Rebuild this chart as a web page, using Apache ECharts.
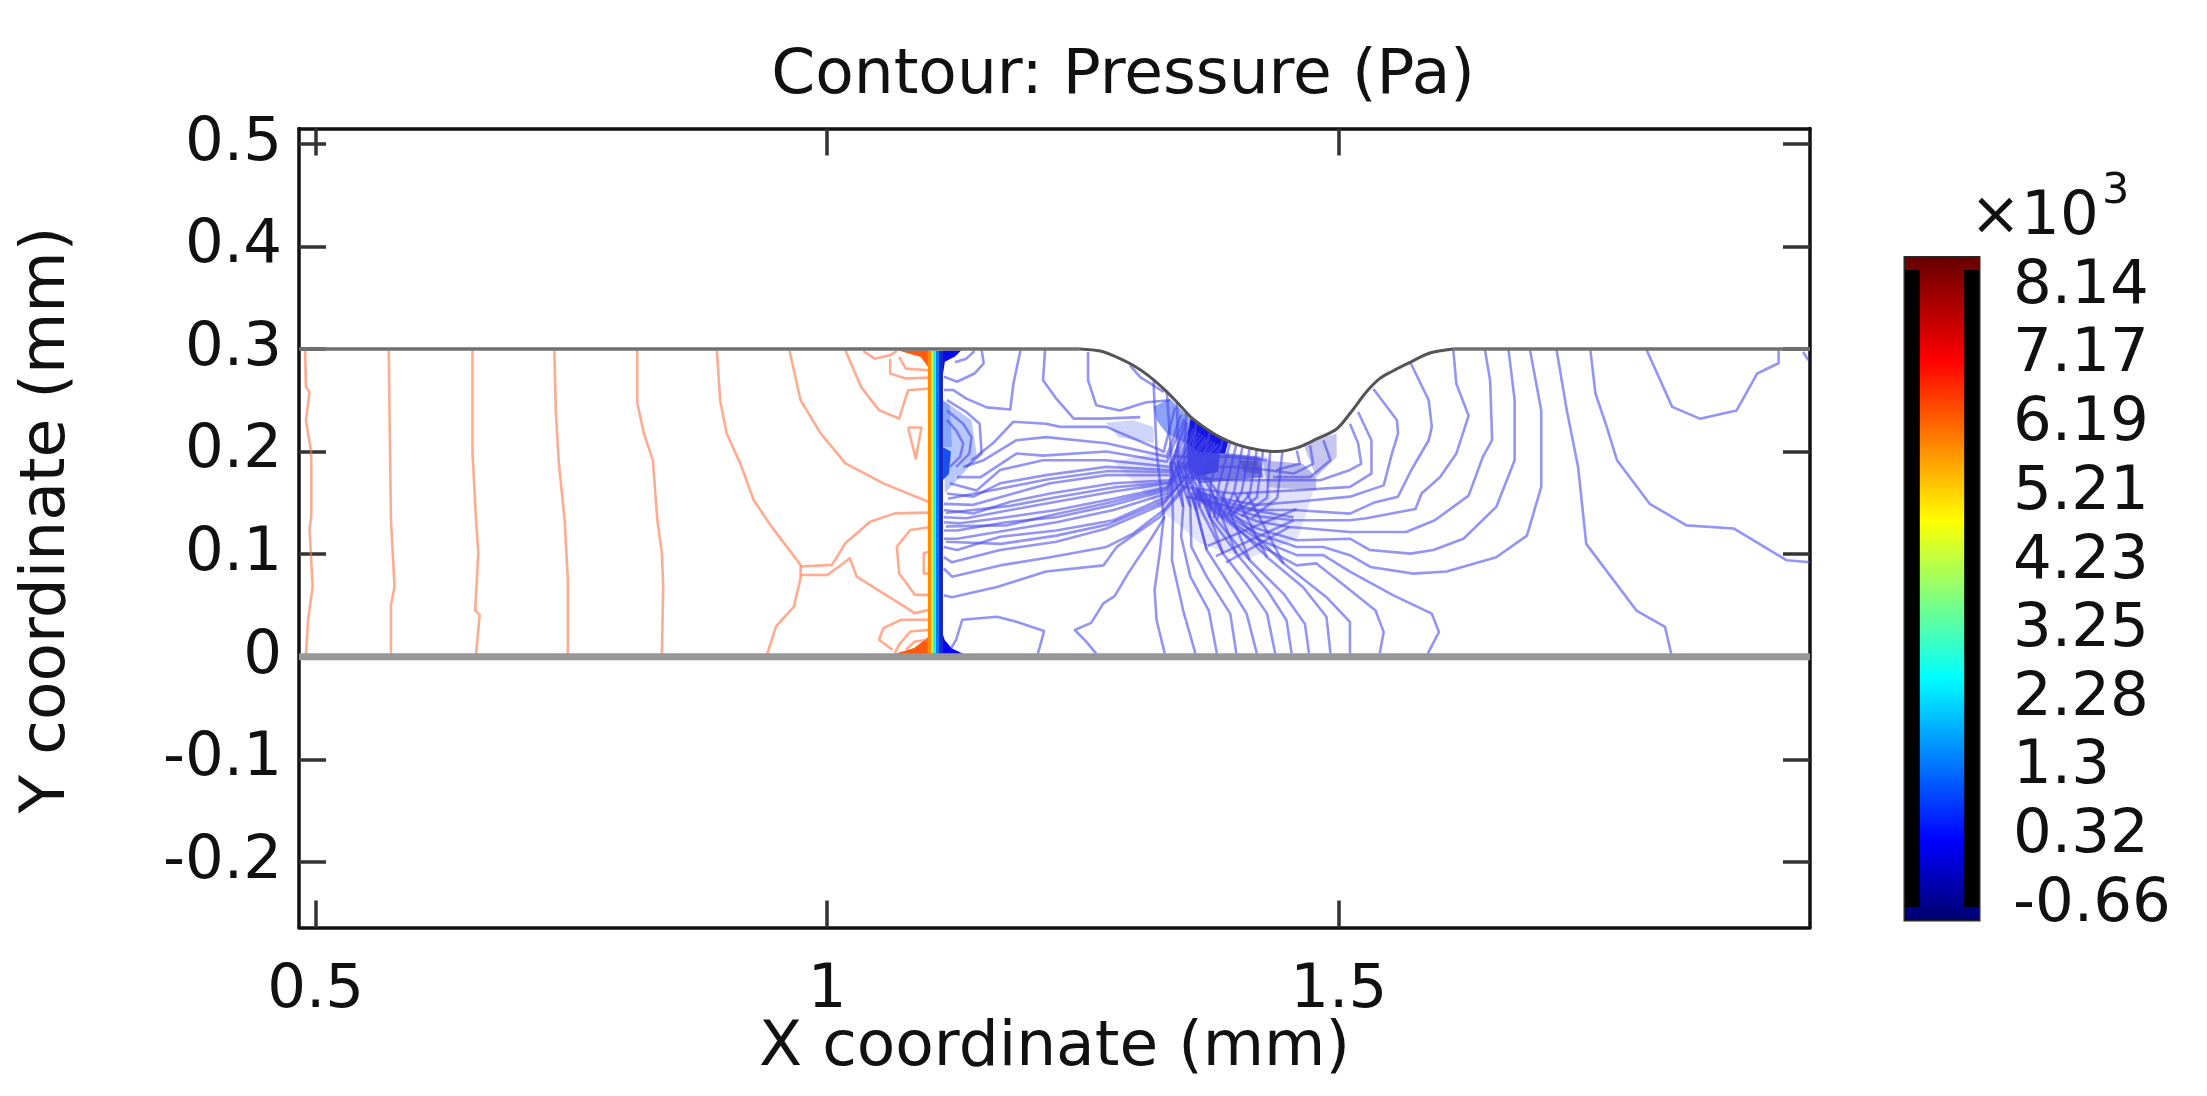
<!DOCTYPE html>
<html><head><meta charset="utf-8"><title>Contour: Pressure (Pa)</title>
<style>html,body{margin:0;padding:0;background:#fff}#c{width:2207px;height:1096px;filter:blur(0.55px)}</style>
<script src="https://cdn.jsdelivr.net/npm/echarts@6/dist/echarts.min.js"></script></head>
<body><div id="c"></div>
<script>
const chartTitle = 'Contour: Pressure (Pa)';
const xName = 'X coordinate (mm)';
const yName = 'Y coordinate (mm)';
const xRange = [0.4837, 1.9607];
const yRange = [-0.2639, 0.5148];
const xTicks = [0.5, 1, 1.5];
const yTicks = [-0.2, -0.1, 0, 0.1, 0.2, 0.3, 0.4, 0.5];
const colorTicks = [8.14, 7.17, 6.19, 5.21, 4.23, 3.25, 2.28, 1.3, 0.32, -0.66];
const colorRange = [-0.874, 8.5675];
const colorBandRange = [-0.689, 8.389];

// channel walls (mm)
const wallTopLeft = [[0.4837,0.3],[1.247,0.3]];
const wallBump = [[1.247,0.3],[1.267,0.298],[1.283,0.292],[1.299,0.284],[1.314,0.274],[1.329,0.261],[1.342,0.248],[1.355,0.234],[1.368,0.224],[1.384,0.214],[1.400,0.207],[1.420,0.202],[1.439,0.200],[1.459,0.2035],[1.478,0.212],[1.498,0.222],[1.511,0.237],[1.527,0.258],[1.540,0.271],[1.552,0.278],[1.570,0.287],[1.589,0.296],[1.612,0.3]];
const wallTopRight = [[1.612,0.3],[1.9607,0.3]];
const wallBottom = [[0.4837,0],[1.9607,0]];

// high-pressure contours (mm)
const orangeContours = [
 [[0.4896,0.2986],[0.4905,0.263],[0.494,0.258],[0.4905,0.2305],[0.4957,0.198],[0.4957,0.1365],[0.494,0.125],[0.497,0.0684],[0.4926,0.036],[0.4905,0.002]],
 [[0.5714,0.2986],[0.5727,0.198],[0.5736,0.133],[0.5771,0.0684],[0.5736,0.05],[0.5736,0.002]],
 [[0.6533,0.2986],[0.6533,0.198],[0.6568,0.133],[0.659,0.1008],[0.6559,0.0455],[0.6603,0.0405],[0.6568,0.002]],
 [[0.7333,0.2986],[0.7347,0.2396],[0.7377,0.1884],[0.7434,0.133],[0.7465,0.0749],[0.7465,0.002]],
 [[0.8143,0.2986],[0.8143,0.2478],[0.8209,0.2176],[0.8296,0.1914],[0.834,0.133],[0.8384,0.1008],[0.8397,0.0684],[0.8384,0.002]],
 [[0.8922,0.2986],[0.8953,0.25],[0.9018,0.2176],[0.915,0.1884],[0.9281,0.1527],[0.9456,0.1268],[0.974,0.0895],[0.974,0.0765],[0.9675,0.0489],[0.95,0.0295],[0.9412,0.002]],
 [[0.974,0.0879],[1.0047,0.0895],[1.0178,0.1106],[1.0419,0.1316],[1.066,0.1397],[1.0997,0.1404]],
 [[0.974,0.0797],[1.0003,0.0797],[1.0222,0.096],[1.0288,0.0781],[1.0857,0.0425],[1.0997,0.0457]],
 [[0.9631,0.2986],[0.974,0.25],[0.9937,0.2176],[1.0178,0.1884],[1.055,0.1689],[1.0988,0.1511]],
 [[1.0178,0.2986],[1.0331,0.263],[1.0506,0.2403],[1.0703,0.2321],[1.0791,0.2597],[1.0997,0.2613]],
 [[1.0791,0.2234],[1.0922,0.2234],[1.0865,0.1932],[1.0791,0.2234]],
 [[1.0353,0.298],[1.0463,0.2905],[1.0616,0.2938],[1.0681,0.298]],
 [[1.0616,0.2905],[1.0616,0.2759],[1.0769,0.2711],[1.0997,0.272]],
 [[1.0703,0.2921],[1.0769,0.2808],[1.0997,0.2792]],
 [[1.0997,0.1261],[1.0813,0.1235],[1.0681,0.1073],[1.0703,0.0814],[1.0857,0.0603],[1.0997,0.0603]],
 [[1.0997,0.1024],[1.0944,0.1008],[1.0944,0.0814],[1.0997,0.0807]],
 [[1.0997,0.036],[1.0725,0.036],[1.055,0.0279],[1.0506,0.0165],[1.0638,0.0068]],
 [[1.0997,0.0262],[1.0813,0.0246],[1.0703,0.0117],[1.066,0.0035]],
 [[1.0997,0.0165],[1.0857,0.0149],[1.0769,0.0068]]
];

// shock front: vertical contour bundle x positions (mm)
const frontX = [1.1004, 1.1024, 1.1037, 1.1052, 1.1078, 1.1112];
const frontY = [0.298, -0.003];

// low-pressure fan left of the throat, rising to the wall (mm)
const blueFanLeft = [
 [[1.114,0.060],[1.122,0.058],[1.166,0.068],[1.214,0.083],[1.270,0.089],[1.283,0.107],[1.325,0.136],[1.385,0.205]],
 [[1.114,0.086],[1.122,0.078],[1.169,0.089],[1.218,0.097],[1.273,0.107],[1.299,0.120],[1.329,0.143],[1.382,0.207]],
 [[1.114,0.097],[1.122,0.092],[1.169,0.104],[1.224,0.112],[1.273,0.125],[1.329,0.149],[1.379,0.209]],
 [[1.114,0.107],[1.127,0.104],[1.169,0.117],[1.224,0.123],[1.280,0.133],[1.332,0.156],[1.376,0.210]],
 [[1.114,0.115],[1.127,0.115],[1.175,0.123],[1.224,0.131],[1.280,0.143],[1.332,0.159],[1.373,0.212]],
 [[1.114,0.123],[1.127,0.123],[1.175,0.131],[1.224,0.136],[1.280,0.148],[1.332,0.162],[1.370,0.214]],
 [[1.114,0.131],[1.130,0.130],[1.175,0.136],[1.224,0.143],[1.280,0.154],[1.332,0.1655],[1.367,0.216]],
 [[1.114,0.136],[1.136,0.135],[1.179,0.143],[1.224,0.151],[1.280,0.161],[1.335,0.169],[1.364,0.218]],
 [[1.114,0.143],[1.143,0.1395],[1.179,0.151],[1.218,0.159],[1.280,0.169],[1.335,0.172],[1.361,0.220]],
 [[1.114,0.149],[1.143,0.148],[1.182,0.159],[1.218,0.169],[1.273,0.177],[1.335,0.177],[1.358,0.222]],
 [[1.117,0.159],[1.143,0.156],[1.169,0.169],[1.214,0.177],[1.273,0.185],[1.335,0.182],[1.355,0.225]],
 [[1.120,0.169],[1.146,0.162],[1.169,0.182],[1.211,0.1915],[1.273,0.1915],[1.335,0.185],[1.352,0.228]],
 [[1.127,0.175],[1.150,0.175],[1.185,0.198],[1.211,0.196],[1.273,0.200],[1.332,0.190],[1.349,0.232]],
 [[1.133,0.185],[1.153,0.1915],[1.185,0.211],[1.214,0.214],[1.273,0.208],[1.332,0.195],[1.346,0.236]],
 [[1.141,0.1915],[1.162,0.208],[1.182,0.229],[1.214,0.227],[1.228,0.224],[1.273,0.224],[1.329,0.200],[1.340,0.243]],
 [[1.116,0.112],[1.170,0.110],[1.224,0.118],[1.275,0.129],[1.330,0.152],[1.380,0.206]],
 [[1.116,0.127],[1.175,0.128],[1.224,0.139],[1.280,0.151],[1.332,0.164],[1.371,0.212]],
 [[1.116,0.140],[1.179,0.147],[1.221,0.155],[1.280,0.165],[1.334,0.170],[1.360,0.220]],
 [[1.118,0.154],[1.170,0.164],[1.216,0.173],[1.275,0.181],[1.335,0.180],[1.350,0.230]]
];
const blueUpperLeft = [
 [[1.114,0.260],[1.123,0.260],[1.136,0.2515],[1.156,0.243],[1.179,0.241],[1.182,0.266],[1.189,0.299]],
 [[1.114,0.273],[1.127,0.268],[1.144,0.276],[1.153,0.286],[1.151,0.299]],
 [[1.125,0.287],[1.136,0.2905],[1.144,0.298]],
 [[1.213,0.299],[1.211,0.2695],[1.224,0.2515],[1.241,0.232],[1.270,0.232],[1.306,0.2335]],
 [[1.255,0.297],[1.255,0.2695],[1.263,0.245],[1.286,0.240],[1.312,0.248],[1.335,0.250]],
 [[1.296,0.284],[1.306,0.2725],[1.329,0.258]],
 [[1.117,0.25],[1.136,0.2385],[1.149,0.227],[1.151,0.198],[1.136,0.185]],
 [[1.117,0.240],[1.133,0.227],[1.141,0.214],[1.139,0.198],[1.126,0.185]],
 [[1.117,0.2305],[1.126,0.2205],[1.133,0.208],[1.130,0.195],[1.120,0.185]]
];
const blueBottomLeft = [
 [[1.121,0.008],[1.126,0.0165],[1.132,0.036],[1.166,0.039],[1.185,0.034],[1.212,0.025],[1.206,0.003]],
 [[1.263,0.003],[1.253,0.015],[1.242,0.026],[1.258,0.033],[1.270,0.052],[1.281,0.059],[1.294,0.081],[1.316,0.114],[1.330,0.1365]]
];
const blueFanBottom = [
 [[1.330,0.003],[1.322,0.0355],[1.320,0.065],[1.325,0.1005],[1.329,0.136]],
 [[1.360,0.003],[1.348,0.045],[1.337,0.094],[1.338,0.136]],
 [[1.381,0.003],[1.373,0.045],[1.355,0.078],[1.346,0.117],[1.348,0.146],[1.335,0.190]],
 [[1.400,0.003],[1.394,0.042],[1.371,0.078],[1.356,0.107],[1.355,0.146],[1.339,0.190]],
 [[1.420,0.003],[1.410,0.042],[1.390,0.0745],[1.371,0.104],[1.361,0.143],[1.343,0.190]],
 [[1.438,0.003],[1.430,0.042],[1.410,0.071],[1.387,0.1005],[1.364,0.146],[1.347,0.190]],
 [[1.454,0.003],[1.449,0.0355],[1.430,0.065],[1.400,0.1005],[1.374,0.136],[1.351,0.190]],
 [[1.471,0.003],[1.467,0.032],[1.446,0.0615],[1.413,0.094],[1.381,0.133],[1.355,0.190]],
 [[1.492,0.003],[1.488,0.039],[1.465,0.068],[1.430,0.097],[1.390,0.136],[1.359,0.190]],
 [[1.511,0.003],[1.511,0.034],[1.488,0.058],[1.446,0.091],[1.397,0.1395],[1.363,0.185]],
 [[1.540,0.003],[1.544,0.024],[1.536,0.045],[1.511,0.065],[1.478,0.091],[1.459,0.089],[1.42,0.11],[1.38,0.14],[1.36,0.156]],
 [[1.587,0.003],[1.598,0.024],[1.591,0.042],[1.553,0.060],[1.511,0.083],[1.485,0.099],[1.459,0.099],[1.42,0.115],[1.38,0.142],[1.36,0.157]]
];
const blueLattice = [
 [[1.371,0.104],[1.356,0.160]],[[1.387,0.1005],[1.366,0.160]],[[1.400,0.1005],[1.376,0.160]],
 [[1.413,0.094],[1.386,0.160]],[[1.430,0.097],[1.398,0.160]],[[1.446,0.091],[1.410,0.160]],
 [[1.372,0.108],[1.459,0.144]],[[1.380,0.098],[1.456,0.133]],[[1.390,0.092],[1.452,0.1265]]
];
const blueRight = [
 [[1.534,0.261],[1.557,0.2305],[1.558,0.2175],[1.552,0.198],[1.544,0.167],[1.511,0.156],[1.459,0.151],[1.42,0.148],[1.38,0.155],[1.36,0.163]],
 [[1.570,0.287],[1.588,0.25],[1.591,0.224],[1.588,0.211],[1.571,0.182],[1.558,0.156],[1.534,0.150],[1.511,0.1395],[1.456,0.143],[1.42,0.143],[1.38,0.153],[1.36,0.162]],
 [[1.612,0.299],[1.615,0.266],[1.627,0.235],[1.615,0.198],[1.599,0.175],[1.581,0.159],[1.575,0.144],[1.527,0.135],[1.511,0.133],[1.456,0.133],[1.42,0.137],[1.38,0.15],[1.36,0.161]],
 [[1.643,0.299],[1.648,0.2695],[1.650,0.211],[1.641,0.195],[1.627,0.157],[1.594,0.133],[1.566,0.1215],[1.511,0.1215],[1.452,0.1265],[1.42,0.132],[1.38,0.148],[1.36,0.16]],
 [[1.666,0.299],[1.672,0.25],[1.672,0.1915],[1.654,0.146],[1.622,0.115],[1.5925,0.104],[1.570,0.1005],[1.5306,0.104],[1.511,0.115],[1.459,0.1135],[1.42,0.125],[1.38,0.146],[1.36,0.159]],
 [[1.687,0.299],[1.698,0.240],[1.698,0.1655],[1.684,0.118],[1.654,0.097],[1.6055,0.083],[1.573,0.081],[1.531,0.0875],[1.511,0.099],[1.485,0.107],[1.459,0.107],[1.42,0.12],[1.38,0.144],[1.36,0.158]],
 [[1.713,0.299],[1.723,0.240],[1.734,0.185],[1.742,0.110],[1.791,0.045],[1.819,0.029],[1.825,0.003]],
 [[1.746,0.299],[1.751,0.2565],[1.762,0.224],[1.772,0.1915],[1.804,0.149],[1.840,0.128],[1.886,0.125],[1.938,0.094],[1.9607,0.092]],
 [[1.801,0.299],[1.826,0.2435],[1.853,0.232],[1.889,0.240],[1.909,0.276],[1.930,0.286],[1.930,0.299]],
 [[1.954,0.297],[1.959,0.289]],
 [[1.519,0.2385],[1.532,0.211],[1.532,0.1785],[1.511,0.1655],[1.456,0.162]],
 [[1.511,0.227],[1.519,0.208],[1.522,0.188],[1.511,0.182],[1.482,0.172],[1.446,0.172]],
 [[1.485,0.211],[1.492,0.1915],[1.472,0.175],[1.436,0.175]],
 [[1.472,0.206],[1.475,0.188],[1.456,0.1785],[1.430,0.182]],
 [[1.459,0.201],[1.462,0.188],[1.439,0.182]]
];
const blueThroat = [
 [[1.319,0.268],[1.322,0.2],[1.329,0.136]],[[1.332,0.258],[1.336,0.2],[1.338,0.136]],[[1.342,0.248],[1.343,0.19],[1.348,0.146]],
 [[1.351,0.239],[1.349,0.19],[1.355,0.146]],[[1.361,0.229],[1.355,0.185],[1.361,0.143]],[[1.374,0.219],[1.364,0.175],[1.364,0.146]],
 [[1.387,0.2125],[1.375,0.17],[1.374,0.136]],[[1.400,0.207],[1.39,0.165],[1.381,0.133]],[[1.413,0.203],[1.405,0.16],[1.39,0.136]],[[1.426,0.2005],[1.42,0.155],[1.397,0.1395]],
 [[1.394,0.209],[1.383,0.168],[1.378,0.135]],[[1.406,0.205],[1.398,0.162],[1.386,0.135]],[[1.420,0.202],[1.413,0.158],[1.394,0.137]],
 [[1.433,0.2],[1.43,0.155],[1.405,0.137]],[[1.445,0.2],[1.44,0.155],[1.415,0.135]],
 [[1.351,0.156],[1.397,0.146],[1.456,0.136]],
 [[1.348,0.1655],[1.397,0.159],[1.456,0.162]],
 [[1.345,0.175],[1.397,0.172],[1.446,0.172]],
 [[1.342,0.185],[1.397,0.185],[1.430,0.182]],
 [[1.338,0.195],[1.397,0.195],[1.430,0.1915]]
];

// zones where overlapping contours merge (mm)
const zoneFan = [[1.28,0.19],[1.35,0.205],[1.43,0.195],[1.475,0.16],[1.46,0.115],[1.41,0.095],[1.365,0.11],[1.33,0.14]];
const zoneFanMid = [[1.345,0.19],[1.43,0.17],[1.44,0.13],[1.39,0.115],[1.35,0.15]];
const zoneFaint = [[1.272,0.228],[1.299,0.2305],[1.319,0.224],[1.319,0.208],[1.285,0.214]];
const zoneWall = [[1.319,0.2435],[1.335,0.2515],[1.355,0.232],[1.351,0.208],[1.332,0.2175],[1.322,0.2305]];
const zoneCore = [[1.351,0.208],[1.389,0.198],[1.423,0.195],[1.426,0.175],[1.397,0.172],[1.364,0.169],[1.351,0.182]];
const zoneCoreDeep = [[1.352,0.207],[1.384,0.199],[1.382,0.180],[1.362,0.176],[1.353,0.186]];
const zoneCoreDark = [[1.403,0.191],[1.421,0.191],[1.423,0.178],[1.407,0.18]];
const zonePeak = [[1.355,0.232],[1.368,0.224],[1.384,0.214],[1.392,0.209],[1.389,0.198],[1.364,0.1995],[1.351,0.208]];
const zoneGrey = [[1.426,0.1915],[1.465,0.188],[1.478,0.175],[1.478,0.162],[1.430,0.1655]];
const zoneUpperRight = [[1.465,0.208],[1.498,0.2175],[1.498,0.195],[1.478,0.175]];
const zoneFrontLight = [[1.1136,0.25],[1.141,0.2305],[1.146,0.198],[1.136,0.182],[1.115,0.159]];
const zoneFrontUpper = [[1.1129,0.25],[1.120,0.245],[1.122,0.2045],[1.1129,0.2045]];
const zoneFront = [[1.1129,0.2045],[1.121,0.2],[1.119,0.178],[1.1129,0.172]];
const zoneCornerTop = [[1.1129,0.2985],[1.131,0.2985],[1.125,0.2925],[1.115,0.2875],[1.1129,0.273]];
const zoneCornerBottom = [[1.1129,0.0225],[1.115,0.016],[1.122,0.008],[1.133,0.003],[1.1129,0.002]];
const zoneOrangeTop = [[1.0695,0.2985],[1.0985,0.2985],[1.0985,0.2825],[1.0915,0.292]];
const zoneOrangeBottom = [[1.063,0.002],[1.0985,0.002],[1.0985,0.019],[1.085,0.0085]];
const zones = [zoneFan,zoneFanMid,zoneFaint,zoneWall,zoneCore,zoneCoreDeep,zoneCoreDark,zonePeak,zoneGrey,zoneUpperRight,zoneFrontLight,zoneFrontUpper,zoneFront,zoneCornerTop,zoneCornerBottom,zoneOrangeTop,zoneOrangeBottom];

const zoneColors = ['#e3e4fb','#d2d3f7','#cfd4fb','#8aa3f8','#7478e4','#3f45e2','#5a5ad0','#1616e2','#b8b8ea','#c6c6f0','#b8c8fa','#86a5f8','#1a50f0','#0808ee','#0808ee','#ff5a10','#ff5a10'];
const FONT = '"DejaVu Sans"';
const TEXT = '#111';
const orangeLine = 'rgba(255,120,75,0.62)';
const blueLine = 'rgba(70,70,232,0.58)';
const frontColors = ['#ff8a00','#ffd800','#8dff60','#10f0e0','#0078ff','#1226c8'];
const frontWidths = [4,2,2,2,3,4];

function lineSeries(data, color, width, z, opts) {
  return Object.assign({type:'line', data, showSymbol:false, silent:true, animation:false, z,
    clip:true, xAxisIndex:0, yAxisIndex:0,
    lineStyle:{color, width, cap:'butt', join:'round'}}, opts||{});
}
const series = [];
zones.forEach((zone,i) => series.push({type:'custom', coordinateSystem:'cartesian2d', xAxisIndex:0, yAxisIndex:0,
  silent:true, animation:false, z:2, data:zone, encode:{x:0,y:1},
  renderItem(params,api){
    if (params.dataIndex !== 0) return null;
    return {type:'polygon', shape:{points:zone.map(p=>api.coord(p))}, style:{fill:zoneColors[i]}};
  }}));
orangeContours.forEach(c => series.push(lineSeries(c,orangeLine,2.6,3)));
[blueFanLeft,blueUpperLeft,blueBottomLeft,blueFanBottom,blueLattice,blueRight,blueThroat].forEach(g =>
  g.forEach(c => series.push(lineSeries(c,blueLine,2.6,3))));
frontX.forEach((x,i) => series.push(lineSeries([[x,frontY[0]],[x,frontY[1]]],frontColors[i],frontWidths[i],4)));
series.push(lineSeries(wallBottom,'#979797',7,5));
series.push(lineSeries(wallTopLeft,'#707070',3.5,5));
series.push(lineSeries(wallTopRight,'#707070',3.5,5));
series.push(lineSeries(wallBump,'#555',3,5,{smooth:0.3}));

// colour bar
const barGradient = new echarts.graphic.LinearGradient(0,0,0,1,[
  {offset:0,color:'#660000'},{offset:0.155,color:'#ff0000'},{offset:0.397,color:'#ffff00'},
  {offset:0.634,color:'#00ffff'},{offset:0.88,color:'#0000ff'},{offset:1,color:'#000070'}]);
series.push({type:'custom', coordinateSystem:'cartesian2d', xAxisIndex:2, yAxisIndex:2, silent:true, animation:false, z:2,
  data:[[0,1,colorRange[0],colorRange[1]],[0,0.2,colorBandRange[0],colorBandRange[1]],[0.8,1,colorBandRange[0],colorBandRange[1]]],
  encode:{x:[0,1],y:[2,3]},
  renderItem(params,api){
    const a = api.coord([api.value(0),api.value(3)]), b = api.coord([api.value(1),api.value(2)]);
    return {type:'rect', shape:{x:a[0],y:a[1],width:b[0]-a[0],height:b[1]-a[1]},
      style:{fill: params.dataIndex===0 ? barGradient : '#000'}};
  }});

const tickStyle = {show:true, inside:true, length:27, lineStyle:{color:'#333', width:3.5}};
const labelStyle = {fontFamily:FONT, fontSize:61, color:TEXT};
const frameLine = {show:true, onZero:false, lineStyle:{color:'#111', width:3.5}};

const chart = echarts.init(document.getElementById('c'), null, {renderer:'canvas'});
chart.setOption({
  animation:false, backgroundColor:'#fff',
  title:{text:chartTitle, left:1118, top:40, textAlign:'center',
    textStyle:{fontFamily:FONT, fontSize:63, fontWeight:'normal', color:TEXT}},
  grid:[{left:299, top:128.5, width:1511, height:799, outerBoundsMode:'none'},
        {left:1905, top:257.5, width:74, height:662.5, outerBoundsMode:'none', show:true, backgroundColor:'transparent', borderColor:'#2a2a2a', borderWidth:3}],
  xAxis:[
    {gridIndex:0, type:'value', position:'bottom', min:xRange[0], max:xRange[1], splitLine:{show:false},
     axisLine:frameLine, axisTick:{...tickStyle, customValues:xTicks},
     axisLabel:{...labelStyle, margin:33, customValues:xTicks, formatter:v=>String(v)},
     name:xName, nameLocation:'middle', nameGap:90, nameMoveOverlap:false, nameTextStyle:{fontFamily:FONT, fontSize:63, color:TEXT}},
    {gridIndex:0, type:'value', position:'top', min:xRange[0], max:xRange[1], splitLine:{show:false},
     axisLine:frameLine, axisTick:{...tickStyle, customValues:xTicks}, axisLabel:{show:false}},
    {gridIndex:1, type:'value', min:0, max:1, show:false}
  ],
  yAxis:[
    {gridIndex:0, type:'value', position:'left', min:yRange[0], max:yRange[1], splitLine:{show:false},
     axisLine:frameLine, axisTick:{...tickStyle, customValues:yTicks},
     axisLabel:{...labelStyle, margin:17, padding:[6,0,0,0], customValues:yTicks, formatter:v=>String(v)},
     name:yName, nameLocation:'middle', nameGap:220, nameTextStyle:{fontFamily:FONT, fontSize:63, color:TEXT, padding:[0,0,0,16]}},
    {gridIndex:0, type:'value', position:'right', min:yRange[0], max:yRange[1], splitLine:{show:false},
     axisLine:frameLine, axisTick:{...tickStyle, customValues:yTicks}, axisLabel:{show:false}},
    {gridIndex:1, type:'value', position:'right', min:colorRange[0], max:colorRange[1], splitLine:{show:false},
     axisLine:{show:false}, axisTick:{show:false},
     axisLabel:{...labelStyle, margin:34, padding:[8,0,0,0], customValues:colorTicks, formatter:v=>String(v)}}
  ],
  graphic:[
    {type:'text', left:1970, top:188, silent:true, style:{text:'×10', fontFamily:FONT, fontSize:61, fill:TEXT}},
    {type:'text', left:2102, top:170, silent:true, style:{text:'3', fontFamily:FONT, fontSize:43, fill:TEXT}}
  ],
  series
});
</script></body></html>
